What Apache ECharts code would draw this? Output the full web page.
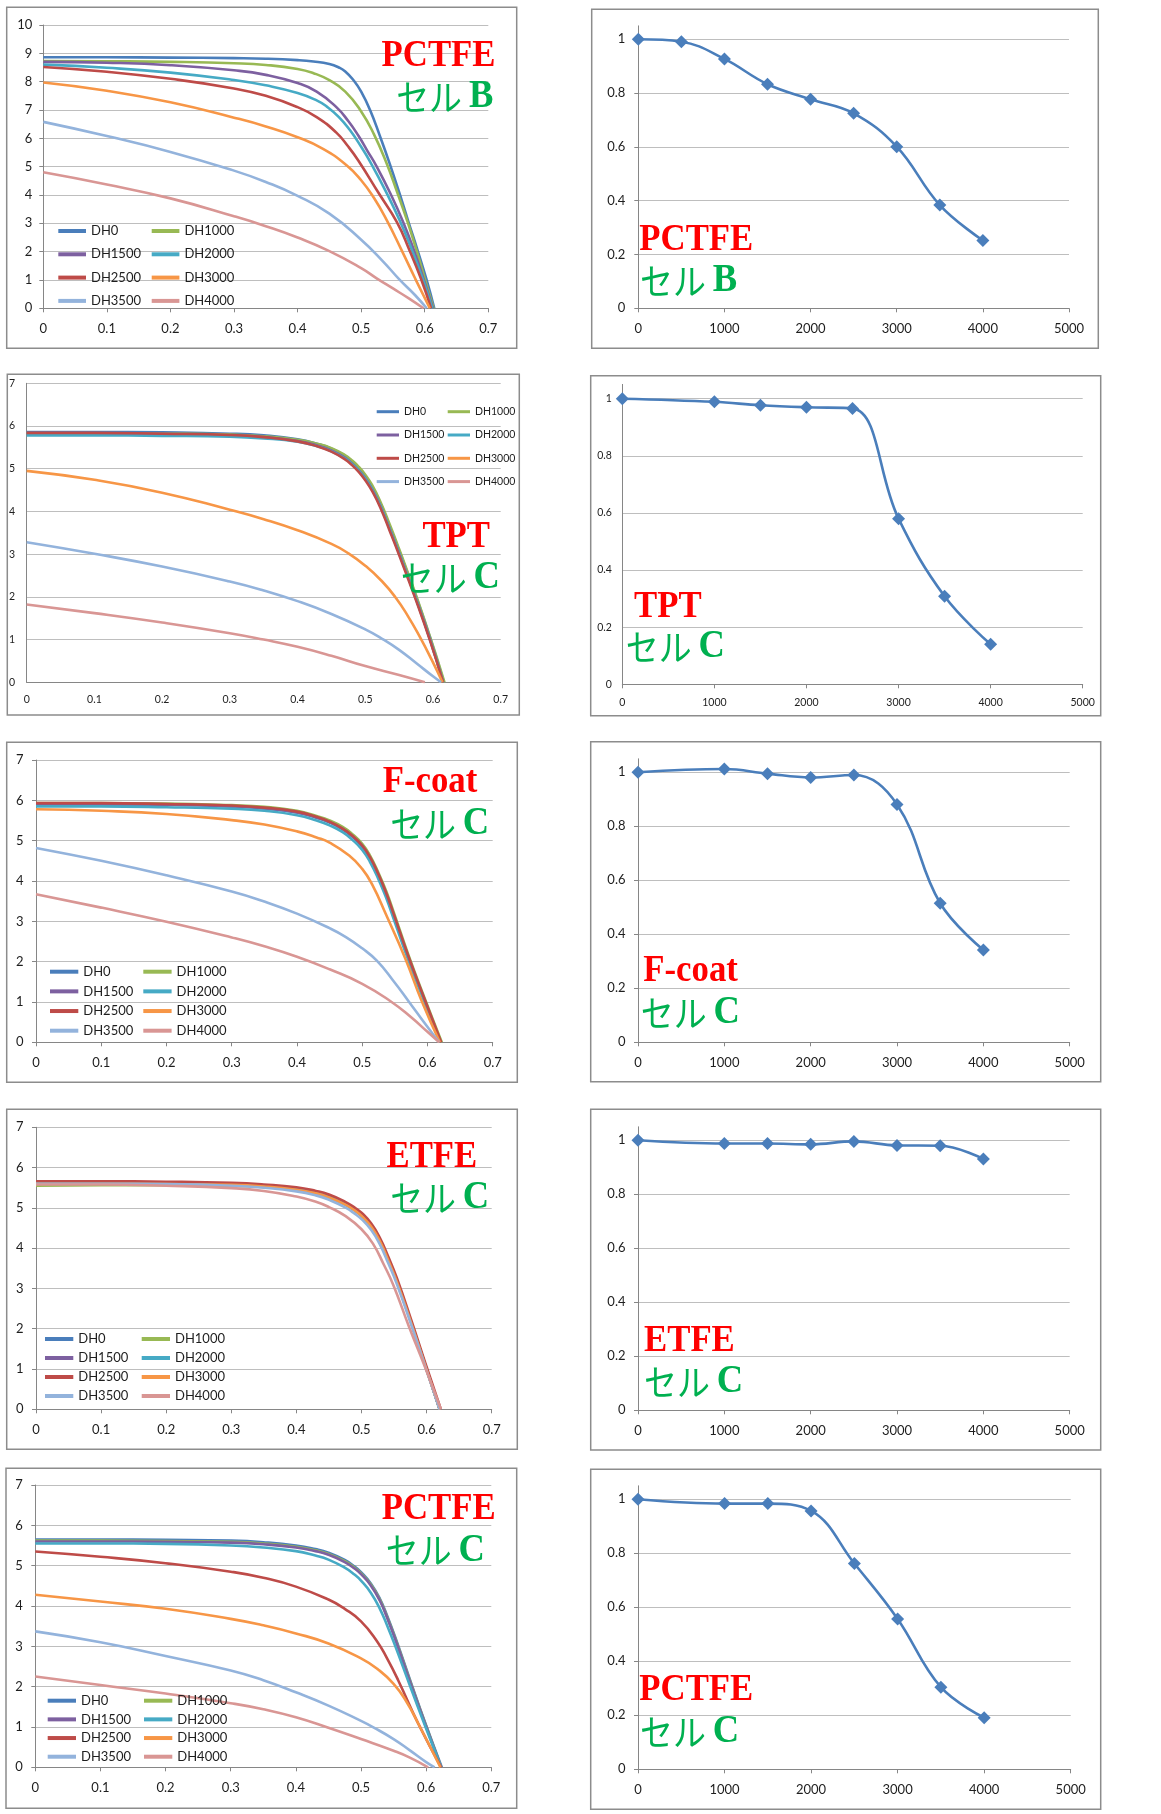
<!DOCTYPE html>
<html>
<head>
<meta charset="utf-8">
<script src="https://cdn.jsdelivr.net/npm/echarts@6.0.0/dist/echarts.min.js"></script>
<style>
  html, body { margin: 0; padding: 0; background: #ffffff; }
  #chart { width: 1161px; height: 1814px; }
</style>
</head>
<body>
<div id="chart"></div>
<script>
// ---------- data ----------
const seriesNames = ['DH0', 'DH1000', 'DH1500', 'DH2000', 'DH2500', 'DH3000', 'DH3500', 'DH4000'];

// damp-heat hours and normalised output (right-hand charts)
const hoursB = [0, 500, 1000, 1500, 2000, 2500, 3000, 3500, 4000];
const hoursC = [0, 1000, 1500, 2000, 2500, 3000, 3500, 4000];
const ratioPctfeB = [1.0, 0.991, 0.927, 0.833, 0.777, 0.725, 0.601, 0.384, 0.252];
const ratioTpt    = [1.0, 0.989, 0.977, 0.970, 0.966, 0.580, 0.308, 0.140];
const ratioFcoat  = [1.0, 1.012, 0.995, 0.981, 0.990, 0.881, 0.515, 0.342];
const ratioEtfe   = [1.0, 0.988, 0.988, 0.985, 0.996, 0.981, 0.980, 0.931];
const ratioPctfeC = [1.0, 0.984, 0.984, 0.957, 0.762, 0.557, 0.304, 0.191];
const ratioTicks  = [0, 0.2, 0.4, 0.6, 0.8, 1];

// I-V curves [voltage, current], one list per damp-heat step
const ivPctfeB = [
  [[0,8.86],[0.1,8.86],[0.2,8.85],[0.3,8.83],[0.35,8.81],[0.4,8.76],[0.425,8.71],[0.45,8.62],[0.465,8.5],[0.475,8.36],[0.488,8.05],[0.5,7.65],[0.514,7.0],[0.53,6.05],[0.545,5.1],[0.56,4.08],[0.574,3.08],[0.589,2.03],[0.603,1.0],[0.615,0]],
  [[0,8.73],[0.1,8.72],[0.2,8.7],[0.3,8.65],[0.35,8.59],[0.4,8.45],[0.425,8.3],[0.45,8.05],[0.475,7.65],[0.5,6.95],[0.52,6.15],[0.54,5.12],[0.557,4.08],[0.573,3.05],[0.587,2.05],[0.6,1.05],[0.614,0]],
  [[0,8.7],[0.1,8.67],[0.2,8.58],[0.3,8.4],[0.35,8.24],[0.4,7.95],[0.43,7.65],[0.461,7.1],[0.48,6.6],[0.496,6.08],[0.51,5.55],[0.524,5.02],[0.546,4.05],[0.566,3.05],[0.583,2.05],[0.598,1.05],[0.613,0]],
  [[0,8.6],[0.1,8.49],[0.2,8.32],[0.3,8.06],[0.35,7.87],[0.4,7.6],[0.43,7.34],[0.446,7.12],[0.465,6.75],[0.482,6.3],[0.5,5.7],[0.514,5.18],[0.539,4.12],[0.561,3.08],[0.58,2.05],[0.597,1.03],[0.612,0]],
  [[0,8.52],[0.1,8.35],[0.2,8.1],[0.3,7.76],[0.35,7.5],[0.4,7.1],[0.43,6.75],[0.461,6.2],[0.48,5.7],[0.496,5.2],[0.528,4.05],[0.556,3.05],[0.576,2.05],[0.594,1.05],[0.61,0]],
  [[0,7.97],[0.1,7.68],[0.2,7.27],[0.3,6.73],[0.35,6.42],[0.4,6.04],[0.44,5.63],[0.477,5.05],[0.5,4.52],[0.52,3.9],[0.54,3.12],[0.563,2.08],[0.585,1.05],[0.608,0]],
  [[0,6.58],[0.1,6.08],[0.2,5.52],[0.3,4.86],[0.35,4.46],[0.4,3.97],[0.45,3.34],[0.5,2.42],[0.535,1.64],[0.56,1.02],[0.585,0.46],[0.603,0]],
  [[0,4.8],[0.1,4.37],[0.2,3.88],[0.3,3.25],[0.35,2.9],[0.4,2.5],[0.45,2.02],[0.5,1.42],[0.525,1.05],[0.55,0.7],[0.575,0.35],[0.598,0]]
];
const ivTpt = [
  [[0,5.86],[0.1,5.86],[0.2,5.85],[0.3,5.82],[0.35,5.78],[0.4,5.69],[0.43,5.58],[0.45,5.47],[0.47,5.3],[0.48,5.18],[0.49,5.02],[0.5,4.83],[0.51,4.58],[0.522,4.2],[0.536,3.65],[0.55,3.08],[0.574,2.05],[0.596,1.03],[0.616,0]],
  [[0,5.83],[0.1,5.83],[0.2,5.82],[0.3,5.8],[0.35,5.76],[0.4,5.68],[0.43,5.58],[0.45,5.48],[0.47,5.32],[0.48,5.2],[0.49,5.05],[0.5,4.86],[0.51,4.62],[0.522,4.24],[0.536,3.7],[0.55,3.12],[0.574,2.08],[0.596,1.05],[0.617,0]],
  [[0,5.82],[0.1,5.82],[0.2,5.81],[0.3,5.78],[0.35,5.74],[0.4,5.65],[0.43,5.54],[0.45,5.43],[0.47,5.26],[0.48,5.13],[0.49,4.97],[0.5,4.78],[0.51,4.53],[0.522,4.15],[0.536,3.6],[0.55,3.03],[0.574,2.0],[0.596,0.99],[0.615,0]],
  [[0,5.78],[0.1,5.78],[0.2,5.77],[0.3,5.75],[0.35,5.71],[0.4,5.63],[0.43,5.52],[0.45,5.41],[0.47,5.24],[0.48,5.12],[0.49,4.96],[0.5,4.77],[0.51,4.52],[0.522,4.14],[0.536,3.59],[0.55,3.02],[0.574,1.99],[0.596,0.98],[0.615,0]],
  [[0,5.84],[0.1,5.84],[0.2,5.82],[0.3,5.79],[0.35,5.74],[0.4,5.64],[0.43,5.52],[0.45,5.4],[0.47,5.22],[0.48,5.09],[0.49,4.93],[0.5,4.73],[0.51,4.48],[0.522,4.1],[0.536,3.55],[0.55,2.98],[0.574,1.96],[0.596,0.96],[0.615,0]],
  [[0,4.95],[0.1,4.74],[0.2,4.44],[0.3,4.04],[0.35,3.82],[0.4,3.56],[0.45,3.24],[0.475,3.02],[0.5,2.73],[0.525,2.36],[0.545,1.98],[0.563,1.55],[0.581,1.05],[0.598,0.53],[0.614,0]],
  [[0,3.28],[0.1,3.01],[0.2,2.71],[0.3,2.36],[0.35,2.15],[0.4,1.9],[0.45,1.6],[0.5,1.24],[0.527,1.0],[0.55,0.76],[0.576,0.44],[0.6,0.14],[0.612,0]],
  [[0,1.82],[0.1,1.62],[0.2,1.4],[0.3,1.15],[0.35,1.0],[0.4,0.83],[0.45,0.62],[0.5,0.38],[0.55,0.17],[0.588,0]]
];
const ivFcoat = [
  [[0,5.9],[0.1,5.9],[0.2,5.89],[0.3,5.85],[0.35,5.8],[0.4,5.7],[0.43,5.57],[0.45,5.45],[0.47,5.28],[0.485,5.1],[0.5,4.85],[0.512,4.55],[0.525,4.12],[0.537,3.65],[0.548,3.15],[0.571,2.08],[0.596,1.02],[0.62,0]],
  [[0,5.93],[0.1,5.93],[0.2,5.92],[0.3,5.88],[0.35,5.84],[0.4,5.74],[0.43,5.61],[0.45,5.5],[0.47,5.34],[0.485,5.16],[0.5,4.92],[0.512,4.63],[0.525,4.2],[0.537,3.74],[0.548,3.24],[0.571,2.16],[0.596,1.08],[0.622,0]],
  [[0,5.9],[0.1,5.9],[0.2,5.89],[0.3,5.85],[0.35,5.8],[0.4,5.7],[0.43,5.57],[0.45,5.46],[0.47,5.29],[0.485,5.11],[0.5,4.87],[0.512,4.57],[0.525,4.14],[0.537,3.67],[0.548,3.17],[0.571,2.1],[0.596,1.03],[0.62,0]],
  [[0,5.85],[0.1,5.85],[0.2,5.83],[0.3,5.79],[0.35,5.74],[0.4,5.63],[0.43,5.5],[0.45,5.38],[0.47,5.21],[0.485,5.02],[0.5,4.77],[0.512,4.47],[0.525,4.04],[0.537,3.57],[0.548,3.07],[0.571,2.02],[0.596,0.97],[0.619,0]],
  [[0,5.93],[0.1,5.93],[0.2,5.91],[0.3,5.87],[0.35,5.82],[0.4,5.72],[0.43,5.59],[0.45,5.47],[0.47,5.3],[0.485,5.12],[0.5,4.88],[0.512,4.59],[0.525,4.16],[0.537,3.69],[0.548,3.19],[0.571,2.12],[0.596,1.05],[0.621,0]],
  [[0,5.78],[0.1,5.74],[0.2,5.66],[0.3,5.51],[0.35,5.4],[0.4,5.23],[0.43,5.08],[0.45,4.95],[0.48,4.63],[0.5,4.3],[0.515,3.92],[0.537,3.15],[0.566,2.08],[0.591,1.03],[0.619,0]],
  [[0,4.82],[0.1,4.5],[0.2,4.14],[0.3,3.74],[0.35,3.49],[0.4,3.19],[0.45,2.83],[0.475,2.61],[0.5,2.33],[0.522,2.03],[0.547,1.54],[0.571,1.02],[0.595,0.49],[0.618,0]],
  [[0,3.67],[0.1,3.34],[0.2,2.99],[0.3,2.6],[0.35,2.38],[0.4,2.12],[0.45,1.81],[0.5,1.45],[0.545,1.0],[0.575,0.62],[0.6,0.26],[0.618,0]]
];
const ivEtfe = [
  [[0,5.63],[0.1,5.63],[0.2,5.62],[0.3,5.59],[0.35,5.55],[0.4,5.47],[0.43,5.38],[0.45,5.28],[0.475,5.1],[0.49,4.95],[0.5,4.82],[0.515,4.55],[0.528,4.2],[0.541,3.72],[0.554,3.2],[0.577,2.13],[0.599,1.05],[0.62,0]],
  [[0,5.55],[0.1,5.56],[0.2,5.56],[0.3,5.55],[0.35,5.52],[0.4,5.45],[0.43,5.36],[0.45,5.27],[0.475,5.09],[0.49,4.94],[0.5,4.81],[0.515,4.54],[0.528,4.19],[0.541,3.71],[0.554,3.19],[0.577,2.12],[0.599,1.04],[0.62,0]],
  [[0,5.62],[0.1,5.62],[0.2,5.61],[0.3,5.58],[0.35,5.54],[0.4,5.46],[0.43,5.37],[0.45,5.27],[0.475,5.09],[0.49,4.94],[0.5,4.81],[0.515,4.54],[0.528,4.19],[0.541,3.71],[0.554,3.19],[0.577,2.12],[0.599,1.04],[0.62,0]],
  [[0,5.6],[0.1,5.6],[0.2,5.59],[0.3,5.57],[0.35,5.53],[0.4,5.45],[0.43,5.36],[0.45,5.26],[0.475,5.08],[0.49,4.93],[0.5,4.8],[0.515,4.53],[0.528,4.18],[0.541,3.7],[0.554,3.18],[0.577,2.11],[0.599,1.03],[0.62,0]],
  [[0,5.66],[0.1,5.66],[0.2,5.65],[0.3,5.62],[0.35,5.58],[0.4,5.51],[0.43,5.42],[0.45,5.33],[0.475,5.15],[0.49,5.0],[0.5,4.88],[0.515,4.61],[0.528,4.26],[0.541,3.79],[0.554,3.27],[0.577,2.19],[0.599,1.1],[0.622,0]],
  [[0,5.6],[0.1,5.6],[0.2,5.59],[0.3,5.57],[0.35,5.53],[0.4,5.45],[0.43,5.36],[0.45,5.26],[0.475,5.08],[0.49,4.93],[0.5,4.8],[0.515,4.53],[0.528,4.18],[0.541,3.7],[0.554,3.18],[0.577,2.11],[0.599,1.03],[0.62,0]],
  [[0,5.6],[0.1,5.6],[0.2,5.59],[0.3,5.55],[0.35,5.5],[0.4,5.41],[0.43,5.31],[0.45,5.2],[0.475,5.01],[0.49,4.85],[0.5,4.72],[0.515,4.45],[0.528,4.1],[0.541,3.63],[0.554,3.12],[0.577,2.07],[0.599,1.01],[0.62,0]],
  [[0,5.58],[0.1,5.58],[0.2,5.55],[0.3,5.49],[0.35,5.42],[0.4,5.28],[0.43,5.15],[0.45,5.02],[0.475,4.8],[0.5,4.47],[0.518,4.1],[0.534,3.6],[0.549,3.08],[0.573,2.05],[0.598,1.03],[0.622,0]]
];
const ivPctfeC = [
  [[0,5.65],[0.1,5.65],[0.2,5.64],[0.3,5.62],[0.35,5.58],[0.4,5.5],[0.43,5.41],[0.45,5.32],[0.475,5.14],[0.49,4.98],[0.5,4.84],[0.515,4.56],[0.529,4.18],[0.541,3.72],[0.552,3.25],[0.575,2.18],[0.599,1.08],[0.624,0]],
  [[0,5.62],[0.1,5.62],[0.2,5.61],[0.3,5.59],[0.35,5.55],[0.4,5.47],[0.43,5.38],[0.45,5.29],[0.475,5.11],[0.49,4.95],[0.5,4.81],[0.515,4.53],[0.529,4.15],[0.541,3.69],[0.552,3.22],[0.575,2.15],[0.599,1.06],[0.623,0]],
  [[0,5.6],[0.1,5.6],[0.2,5.59],[0.3,5.57],[0.35,5.53],[0.4,5.45],[0.43,5.36],[0.45,5.27],[0.475,5.09],[0.49,4.93],[0.5,4.79],[0.515,4.51],[0.529,4.13],[0.541,3.67],[0.552,3.2],[0.575,2.13],[0.599,1.05],[0.623,0]],
  [[0,5.55],[0.1,5.55],[0.2,5.54],[0.3,5.5],[0.35,5.45],[0.4,5.36],[0.43,5.25],[0.45,5.15],[0.475,4.95],[0.49,4.78],[0.5,4.63],[0.515,4.33],[0.529,3.93],[0.541,3.48],[0.552,3.03],[0.575,2.03],[0.599,1.0],[0.623,0]],
  [[0,5.35],[0.1,5.22],[0.2,5.06],[0.3,4.85],[0.35,4.7],[0.4,4.48],[0.45,4.16],[0.475,3.93],[0.5,3.62],[0.524,3.14],[0.54,2.7],[0.557,2.16],[0.588,1.08],[0.623,0]],
  [[0,4.28],[0.1,4.11],[0.2,3.93],[0.3,3.68],[0.35,3.52],[0.4,3.32],[0.45,3.07],[0.5,2.7],[0.525,2.44],[0.55,2.07],[0.57,1.62],[0.588,1.08],[0.622,0]],
  [[0,3.37],[0.1,3.1],[0.2,2.76],[0.3,2.4],[0.35,2.16],[0.4,1.86],[0.45,1.53],[0.5,1.15],[0.519,0.99],[0.55,0.7],[0.575,0.42],[0.6,0.13],[0.613,0]],
  [[0,2.25],[0.1,2.04],[0.2,1.83],[0.3,1.59],[0.35,1.44],[0.4,1.24],[0.45,0.98],[0.5,0.7],[0.55,0.41],[0.575,0.24],[0.603,0]]
];

// ---------- styling ----------
const lineColors = ['#4A7EBB', '#98B954', '#7D60A0', '#46AAC5', '#BE4B48', '#F79646', '#93B3DC', '#D99694'];
const AXIS = '#868686';
const GRID = '#bebebe';
const FRAME = '#8c8c8c';
const LABEL = '#1e1e1e';
const FONT = 'Lato, "Liberation Sans", sans-serif';
const SERIF = '"Liberation Serif", "DejaVu Serif", serif';
const JP = '"Noto Sans CJK JP", sans-serif';
const RED = '#FF0000';
const GREEN = '#00B050';

const option = {
  animation: false,
  backgroundColor: '#ffffff',
  grid: [], xAxis: [], yAxis: [], series: [], legend: [], graphic: []
};

function frame(x1, y1, x2, y2) {
  option.graphic.push({
    type: 'rect', z: 0,
    shape: { x: x1, y: y1, width: x2 - x1, height: y2 - y1 },
    style: { fill: 'none', stroke: FRAME, lineWidth: 1.5 }
  });
}

function addGrid(g) {
  option.grid.push({ left: g[0], top: g[1], width: g[2], height: g[3], containLabel: false, outerBoundsMode: 'none' });
  return option.grid.length - 1;
}

function axisLabel(fs, margin) {
  return { fontSize: fs, color: LABEL, fontFamily: FONT, margin: margin, formatter: v => String(v) };
}

// current-voltage chart
function addIV(g, ymax, curves, fs, xMargin, yMargin, showTicks) {
  const i = addGrid(g);
  option.xAxis.push({
    type: 'value', gridIndex: i, min: 0, max: 0.7, interval: 0.1,
    axisLine: { show: true, onZero: false, lineStyle: { color: AXIS, width: 1 } },
    axisTick: { show: showTicks, length: 4, lineStyle: { color: AXIS } },
    axisLabel: axisLabel(fs, xMargin),
    splitLine: { show: false }
  });
  option.yAxis.push({
    type: 'value', gridIndex: i, min: 0, max: ymax, interval: 1,
    axisLine: { show: true, onZero: false, lineStyle: { color: AXIS, width: 1 } },
    axisTick: { show: showTicks, length: 4, lineStyle: { color: AXIS } },
    axisLabel: axisLabel(fs, yMargin),
    splitLine: { show: true, lineStyle: { color: GRID, width: 1 } }
  });
  curves.forEach((c, k) => {
    option.series.push({
      type: 'line', name: seriesNames[k], xAxisIndex: i, yAxisIndex: i,
      data: c, smooth: 0.5, symbol: 'none', silent: true,
      lineStyle: { width: 2.6, color: lineColors[k] },
      itemStyle: { color: lineColors[k] }
    });
  });
}

// two-column legend of the damp-heat steps
function addLegend(left1, left2, firstRow, rowStep, iw, ih, fs) {
  const lh = fs + 2;
  [[0, 2, 4, 6], [1, 3, 5, 7]].forEach((idx, col) => {
    option.legend.push({
      orient: 'vertical', left: col ? left2 : left1, top: firstRow - lh / 2,
      padding: 0, itemGap: rowStep - lh, itemWidth: iw, itemHeight: ih,
      icon: 'rect', selectedMode: false,
      data: idx.map(k => seriesNames[k]),
      textStyle: { fontSize: fs, lineHeight: lh, color: LABEL, fontFamily: FONT }
    });
  });
}

// normalised output versus damp-heat hours
function addRatio(g, hours, ratio, name, fs, xMargin, yMargin, yTicks) {
  const i = addGrid(g);
  option.xAxis.push({
    type: 'value', gridIndex: i, min: 0, max: 5000, interval: 1000,
    axisLine: { show: true, onZero: false, lineStyle: { color: AXIS, width: 1 } },
    axisTick: { show: true, length: 4, lineStyle: { color: AXIS } },
    axisLabel: axisLabel(fs, xMargin),
    splitLine: { show: false }
  });
  option.yAxis.push({
    type: 'value', gridIndex: i, min: 0, max: 1.05, interval: 0.2,
    axisLine: { show: true, onZero: false, lineStyle: { color: AXIS, width: 1 } },
    axisTick: { show: yTicks, length: 4, customValues: ratioTicks, lineStyle: { color: AXIS } },
    axisLabel: Object.assign(axisLabel(fs, yMargin), { customValues: ratioTicks }),
    splitLine: { show: true, lineStyle: { color: GRID, width: 1 } }
  });
  option.series.push({
    type: 'line', name: name, xAxisIndex: i, yAxisIndex: i,
    data: hours.map((h, k) => [h, ratio[k]]),
    smooth: 0.4, symbol: 'diamond', symbolSize: 13, silent: true, clip: false,
    lineStyle: { width: 2.6, color: '#4A7EBB' },
    itemStyle: { color: '#4A7EBB' }
  });
}

// film name (red) and cell type (green)
function caption(x, y, text, align) {
  option.graphic.push({
    type: 'text', x: x, y: y, scaleX: 0.915, z: 50,
    style: { text: text, fill: RED, fontFamily: SERIF, fontWeight: 'bold', fontSize: 38, align: align, verticalAlign: 'middle' }
  });
}
function cellLabel(x, y, letter, align) {
  option.graphic.push({
    type: 'text', x: x, y: y, scaleX: 0.915, z: 50,
    style: {
      text: '{a|セル} {b|' + letter + '}',
      fill: GREEN, fontFamily: SERIF, fontSize: 30, align: align, verticalAlign: 'middle',
      rich: {
        a: { fill: GREEN, fontFamily: JP, fontWeight: 'normal', fontSize: 36 },
        b: { fill: GREEN, fontFamily: SERIF, fontWeight: 'bold', fontSize: 40 }
      }
    }
  });
}

// ---------- row 1 : PCTFE / cell B ----------
frame(6.7, 7.3, 516.7, 348.3);
addIV([43.3, 25, 445, 283.3], 10, ivPctfeB, 13, 14, 11, true);
addLegend(58.3, 151.7, 231, 23.3, 27.7, 4, 13);
caption(495.5, 56, 'PCTFE', 'right');
cellLabel(493.3, 97, 'B', 'right');

frame(591.7, 9.3, 1098.3, 348.3);
addRatio([638.3, 25.85, 430.7, 282.45], hoursB, ratioPctfeB, 'PCTFE-B', 13, 14, 13, true);
caption(639.3, 240, 'PCTFE', 'left');
cellLabel(640, 281, 'B', 'left');

// ---------- row 2 : TPT / cell C ----------
frame(7.3, 374.3, 519.3, 715);
addIV([26.7, 383.3, 474, 299], 7, ivTpt, 10.5, 12, 11.5, false);
addLegend(376.7, 447.7, 411.7, 23.3, 22.3, 3, 10.5);
caption(490, 537, 'TPT', 'right');
cellLabel(500, 578, 'C', 'right');

frame(590.7, 375.7, 1100.7, 715.7);
addRatio([622.3, 384.4, 460.4, 299.9], hoursC, ratioTpt, 'TPT-C', 10.5, 12.5, 10.5, false);
caption(634, 607, 'TPT', 'left');
cellLabel(625.7, 647, 'C', 'left');

// ---------- row 3 : F-coat / cell C ----------
frame(6.7, 742.3, 517.3, 1082.3);
addIV([36, 760, 456.7, 282.3], 7, ivFcoat, 13, 14, 12.5, true);
addLegend(50, 143.3, 971.7, 19.67, 28.3, 4, 13);
caption(477.3, 782, 'F-coat', 'right');
cellLabel(489.3, 824, 'C', 'right');

frame(590.7, 741.7, 1100.7, 1081.7);
addRatio([638, 758.8, 431.7, 283.5], hoursC, ratioFcoat, 'F-coat-C', 13, 14, 12.5, true);
caption(643.3, 971, 'F-coat', 'left');
cellLabel(640.7, 1013, 'C', 'left');

// ---------- row 4 : ETFE / cell C ----------
frame(6.7, 1109.3, 517.3, 1449.3);
addIV([36, 1127.3, 455.7, 282], 7, ivEtfe, 13, 14, 12.5, true);
addLegend(45, 141.7, 1339, 19, 28.3, 4, 13);
caption(477.3, 1157, 'ETFE', 'right');
cellLabel(489.3, 1198, 'C', 'right');

frame(590.7, 1109.3, 1100.7, 1450);
addRatio([638, 1126.8, 431.7, 283.5], hoursC, ratioEtfe, 'ETFE-C', 13, 14, 12.5, true);
caption(644, 1341, 'ETFE', 'left');
cellLabel(644, 1382, 'C', 'left');

// ---------- row 5 : PCTFE / cell C ----------
frame(6, 1468.3, 516.7, 1808.3);
addIV([35.3, 1485, 456, 282.3], 7, ivPctfeC, 13, 14, 12.5, true);
addLegend(47.7, 144, 1700.7, 18.67, 28.3, 4, 13);
caption(495.7, 1509.5, 'PCTFE', 'right');
cellLabel(485, 1550.5, 'C', 'right');

frame(590.7, 1469.3, 1100.7, 1809.3);
addRatio([638, 1485.8, 432.7, 283.5], hoursC, ratioPctfeC, 'PCTFE-C', 13, 14, 12.5, true);
caption(639.3, 1690, 'PCTFE', 'left');
cellLabel(640, 1732, 'C', 'left');

const chart = echarts.init(document.getElementById('chart'), null, { renderer: 'canvas' });
chart.setOption(option);
</script>
</body>
</html>
